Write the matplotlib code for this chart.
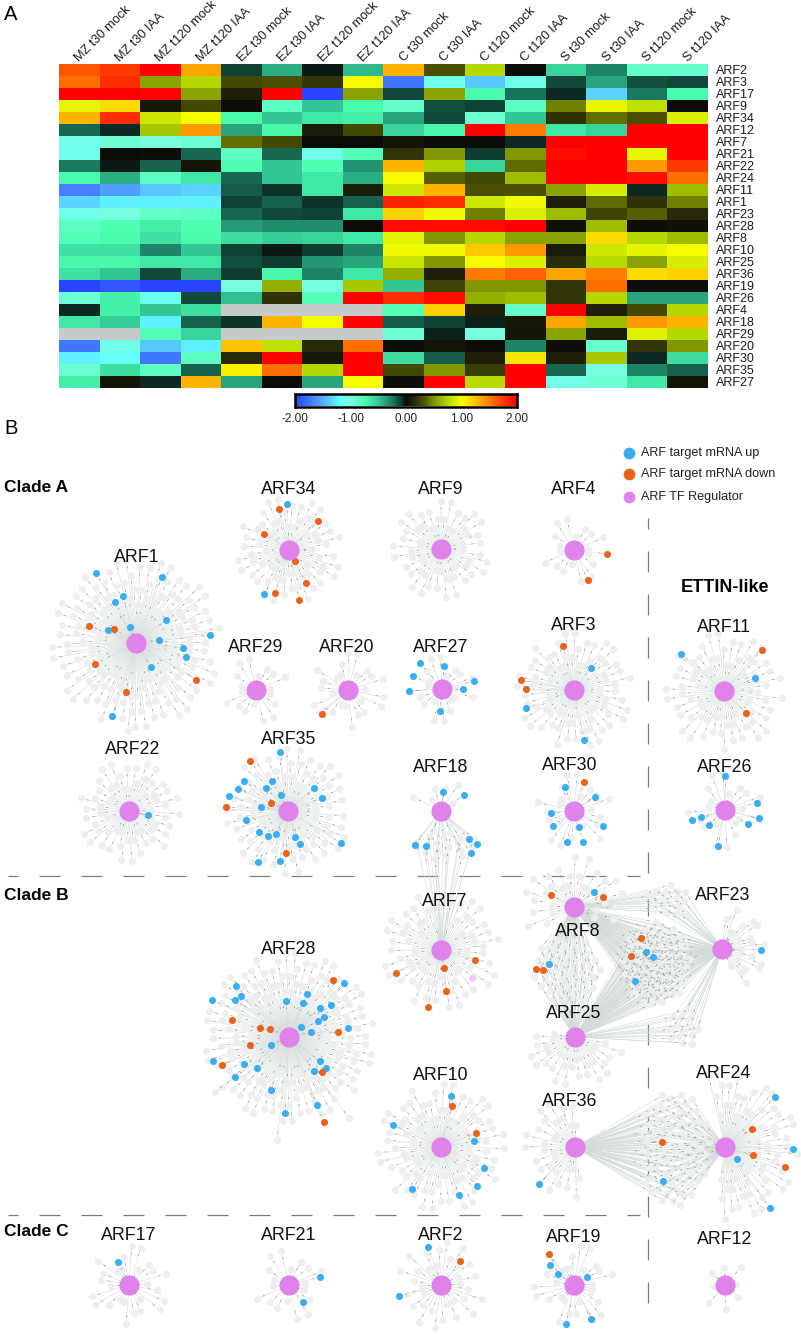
#!/usr/bin/env python3
import numpy as np
import matplotlib
matplotlib.use("Agg")
import matplotlib.pyplot as plt
from matplotlib.collections import LineCollection
from matplotlib.colors import LinearSegmentedColormap

plt.rcParams['font.family'] = ['Liberation Sans', 'DejaVu Sans']

col_labels = ['MZ t30 mock', 'MZ t30 IAA', 'MZ t120 mock', 'MZ t120 IAA',
              'EZ t30 mock', 'EZ t30 IAA', 'EZ t120 mock', 'EZ t120 IAA',
              'C t30 mock', 'C t30 IAA', 'C t120 mock', 'C t120 IAA',
              'S t30 mock', 'S t30 IAA', 'S t120 mock', 'S t120 IAA']
row_labels = ['ARF2', 'ARF3', 'ARF17', 'ARF9', 'ARF34', 'ARF12', 'ARF7', 'ARF21', 'ARF22',
              'ARF24', 'ARF11', 'ARF1', 'ARF23', 'ARF28', 'ARF8', 'ARF10', 'ARF25', 'ARF36',
              'ARF19', 'ARF26', 'ARF4', 'ARF18', 'ARF29', 'ARF20', 'ARF30', 'ARF35', 'ARF27']
nan = float('nan')
heat_values = [
    [1.65, 1.75, 2, 1.35, -0.1, -0.42, -0.03, -0.45, 1.3, 0.3, 0.75, 0, -0.55, -0.28, -0.88, -0.9],
    [1.55, 1.8, 0.55, 0.75, 0.28, 0.3, 0.2, 1.0, -1.75, -1.05, -1.4, -1.05, -0.12, -0.38, -0.13, -0.12],
    [2, 2, 1.97, 0.55, 0.1, 2, -2, 0.55, -0.12, 0.55, -0.75, -0.22, -0.05, -1.35, -0.25, -0.75],
    [0.95, 1.15, 0.07, 0.28, 0.02, -0.85, -0.5, -0.75, -0.9, -0.13, -0.1, -0.85, 0.45, 0.95, 0.8, 0],
    [1.3, 1.8, 0.85, 1.0, -0.75, -0.5, -0.65, -0.68, -0.38, -0.12, -0.95, -0.5, 0.18, 0.4, 0.3, 0.9],
    [-0.2, -0.05, 0.7, 1.4, -0.38, -0.72, 0.08, 0.28, -0.55, -0.72, 2, 1.5, -0.65, -0.55, 2, 2],
    [-1.05, -0.95, -1.0, -0.95, 0.4, 0.28, 0, 0, 0.05, 0.02, 0, -0.05, 2, 2, 2, 2],
    [-1.05, 0, 0.02, -0.2, -0.85, -0.2, -1.05, -0.8, 0.2, 0.5, -0.08, 0.5, 1.95, 2, 0.95, 2],
    [-0.25, -0.03, -0.18, 0.05, -0.78, -0.5, -0.78, -0.32, 1.3, 0.72, -0.55, 0.38, 2, 2, 1.4, 1.75],
    [-0.75, -0.42, -0.85, -0.65, -0.2, -0.5, -0.65, -0.42, 1.0, 0.35, 0.27, 0.65, 2, 2, 1.95, 1.55],
    [-1.7, -1.55, -1.4, -1.35, -0.17, -0.07, -0.65, 0.08, 0.85, 1.3, 0.3, 0.3, 0.55, 0.88, -0.05, 0.65],
    [-1.35, -1.25, -1.25, -1.25, -0.1, -0.18, -0.07, -0.18, 1.85, 1.8, 0.85, 0.97, 0.1, 0.38, 0.18, 0.45],
    [-1.05, -1.0, -0.88, -0.85, -0.2, -0.12, -0.1, -0.65, 1.2, 0.97, 0.45, 0.9, 0.65, 0.25, 0.35, 0.15],
    [-0.85, -0.78, -0.68, -0.78, -0.35, -0.3, -0.3, 0, 1.95, 1.95, 1.95, 2, 0.04, 0.65, 0.02, 0.04],
    [-0.8, -0.75, -0.62, -0.75, -0.6, -0.52, -0.55, -0.65, 0.93, 0.5, 0.75, 0.55, 0.55, 1.15, 0.75, 0.65],
    [-0.62, -0.62, -0.28, -0.5, -0.1, -0.02, -0.08, -0.28, 0.97, 0.97, 1.22, 1.4, 0.08, 0.85, 0.93, 1.0],
    [-0.72, -0.72, -0.65, -0.65, -0.13, -0.08, -0.33, -0.38, 0.83, 0.5, 1.0, 0.9, 0.17, 0.78, 0.55, 0.88],
    [-0.62, -0.5, -0.12, -0.4, -0.08, -0.72, -0.28, -0.65, 0.6, 0.1, 1.5, 1.6, 1.35, 1.5, 1.15, 1.2],
    [-2, -1.9, -2, -2, -1.0, 0.6, -1.0, 0.7, -0.5, 0.25, 0.5, 0.5, 0.2, 1.55, 0.02, 0.02],
    [-0.95, -0.7, -1.1, -0.12, -0.48, 0.18, -0.8, 2, 1.8, 1.95, 0.6, 0.65, 0.2, 0.75, -0.38, -0.38],
    [-0.05, -0.7, -0.5, -0.62, nan, nan, nan, nan, -0.8, 1.2, 0.1, -0.9, 2, 0.1, 0.28, 0.75],
    [-0.65, -0.52, -1.25, -0.18, -0.07, 1.3, 1.0, 2, -0.17, -0.1, -0.04, 0.07, 1.35, 0.65, 1.4, 1.3],
    [nan, nan, -0.8, -0.55, nan, nan, nan, nan, -0.95, -0.04, -1.0, 0.06, 0.55, 0.08, 0.92, 0.75],
    [-1.75, -1.05, -1.4, -1.25, 1.25, 0.8, 0.15, 1.55, 0.03, 0.05, 0.02, -0.27, 0.03, -0.92, 0.2, 0.5],
    [-1.25, -1.15, -1.75, -0.85, 0.15, 2, 0.07, 2, -0.6, -0.17, 0.1, 1.1, 0.1, 0.7, -0.05, -0.6],
    [-0.95, -0.6, -0.85, -0.18, 1.05, 1.55, 0.75, 2, 0.28, 0.5, 0.22, 2, -0.2, -1.0, -0.28, -0.18],
    [-0.68, 0.05, -0.05, 1.3, -0.38, 0, -0.38, 1.0, 0.03, 2, 0.78, 2, -1.05, -0.95, -0.65, 0.05],
]
cbar_ticks = [-2, -1, 0, 1, 2]

# network, in picture pixels
hub_names = ['ARF34', 'ARF9', 'ARF4', 'ARF1', 'ARF29', 'ARF20', 'ARF27', 'ARF3', 'ARF11',
             'ARF22', 'ARF35', 'ARF18', 'ARF30', 'ARF26', 'ARF7', 'ARF8', 'ARF23', 'ARF28',
             'ARF25', 'ARF10', 'ARF36', 'ARF24', 'ARF17', 'ARF21', 'ARF2', 'ARF19', 'ARF12']
hub_x = [289, 441, 574, 136, 256, 348, 442, 574, 724, 129, 288, 441, 574, 725, 441, 574, 722,
         289, 575, 441, 575, 725, 129, 289, 441, 574, 725]
hub_y = [550, 549, 550, 643, 690, 690, 689, 690, 691, 811, 811, 811, 811, 810, 950, 907, 949,
         1037, 1037, 1147, 1147, 1147, 1285, 1285, 1285, 1285, 1285]
hub_label_x = [289, 441, 574, 137, 256, 347, 441, 574, 724, 133, 289, 441, 570, 725, 445, 578,
               723, 289, 574, 441, 570, 724, 129, 289, 441, 574, 725]
hub_label_y = [489, 489, 490, 557, 647, 647, 647, 626, 627, 750, 740, 767, 766, 767, 902, 932,
               895, 949, 1013, 1075, 1102, 1074, 1235, 1235, 1235, 1237, 1239]
hub_leaves = [65, 58, 18, 150, 18, 25, 20, 75, 70, 60, 90, 6, 22, 20, 66, 30, 22, 170, 30, 85,
              30, 60, 26, 18, 32, 28, 8]
hub_radius = [52, 48, 32, 84, 32, 37, 32, 57, 58, 50, 62, 31, 37, 37, 58, 50, 42, 84, 48, 63,
              50, 72, 39, 35, 43, 40, 24]
# arc of own leaves in degrees, counter-clockwise from east
hub_arc = {'ARF18': (30, 150), 'ARF7': (-260, 75), 'ARF8': (-28, 208), 'ARF25': (170, 345),
           'ARF23': (-65, 80), 'ARF36': (85, 275), 'ARF24': (-100, 100)}

up_targets = {
    'ARF34': [(287, 504), (264, 594)],
    'ARF1': [(96, 573), (162, 577), (123, 596), (115, 602), (166, 620), (108, 630), (130, 627),
             (159, 640), (210, 635), (183, 648), (186, 657), (151, 667), (112, 716)],
    'ARF27': [(420, 663), (444, 666), (413, 676), (474, 681), (463, 689), (409, 691), (440, 711)],
    'ARF3': [(591, 668), (526, 708), (584, 740)],
    'ARF11': [(681, 654), (755, 678)],
    'ARF22': [(148, 815)],
    'ARF35': [(280, 752), (244, 781), (238, 789), (229, 796), (272, 781), (266, 788), (281, 795),
              (314, 788), (322, 798), (261, 807), (246, 820), (259, 832), (268, 836), (276, 834),
              (295, 837), (300, 844), (341, 843), (258, 862), (280, 861)],
    'ARF18': [(443, 792), (464, 795), (415, 845), (426, 846), (469, 839), (477, 844), (471, 853)],
    'ARF30': [(565, 787), (595, 797), (551, 813), (553, 826), (567, 842), (583, 842), (603, 826),
              (579, 827)],
    'ARF26': [(725, 776), (757, 803), (759, 818), (692, 820), (709, 825), (701, 817), (718, 846),
              (748, 824)],
    'ARF8': [(594, 892), (549, 964), (635, 981)],
    'ARF23': [(761, 950), (646, 952), (653, 957)],
    'ARF28': [(236, 986), (241, 996), (235, 1000), (212, 1000), (286, 1001), (307, 994),
              (303, 1003), (320, 1008), (331, 1005), (344, 983), (324, 1017), (318, 1021),
              (301, 1027), (311, 1032), (348, 1028), (271, 1045), (213, 1061), (244, 1064),
              (257, 1068), (235, 1077), (271, 1090), (320, 1061), (326, 1068), (314, 1071),
              (317, 1105), (285, 1113)],
    'ARF10': [(451, 1096), (393, 1125), (474, 1141), (484, 1168), (477, 1186), (459, 1195),
              (412, 1189)],
    'ARF36': [(539, 1184), (663, 1181)],
    'ARF24': [(775, 1097), (793, 1149), (737, 1159), (770, 1208)],
    'ARF17': [(118, 1262)],
    'ARF21': [(320, 1277), (303, 1302)],
    'ARF2': [(428, 1247), (399, 1296)],
    'ARF19': [(550, 1265), (558, 1274), (587, 1277), (591, 1319), (566, 1324)],
}
down_targets = {
    'ARF34': [(279, 509), (318, 521), (264, 534), (295, 561), (306, 583), (275, 593), (299, 600)],
    'ARF4': [(607, 554), (588, 580)],
    'ARF1': [(89, 626), (114, 629), (95, 664), (196, 680), (126, 692)],
    'ARF20': [(322, 714)],
    'ARF3': [(563, 646), (521, 680), (526, 689)],
    'ARF11': [(762, 650), (746, 713)],
    'ARF35': [(250, 761), (271, 803), (226, 807), (286, 853)],
    'ARF30': [(584, 782)],
    'ARF7': [(475, 960), (444, 968), (396, 973), (446, 991), (428, 1007)],
    'ARF8': [(551, 895), (603, 897), (536, 969), (543, 970), (641, 938), (631, 956)],
    'ARF28': [(333, 980), (232, 1020), (260, 1028), (270, 1029), (250, 1045), (338, 1032),
              (222, 1065), (322, 1072), (324, 1122)],
    'ARF10': [(452, 1106), (476, 1133)],
    'ARF36': [(662, 1142)],
    'ARF24': [(752, 1129), (753, 1155), (785, 1167)],
    'ARF2': [(460, 1261)],
    'ARF19': [(549, 1254)],
}
pale_targets = [('ARF7', 472, 978)]
long_leaves = [('ARF28', 277, 1140), ('ARF28', 349, 1118), ('ARF1', 128, 731), ('ARF28', 215, 1092)]

# targets shared by several regulators: hubs, centre, half widths, number of leaves
shared_hubs = [('ARF8', 'ARF25'), ('ARF8', 'ARF25', 'ARF23'), ('ARF8', 'ARF23'),
               ('ARF25', 'ARF23'), ('ARF36', 'ARF24'), ('ARF18', 'ARF7')]
shared_cx = [566, 656, 668, 683, 674, 446]
shared_cy = [971, 963, 900, 1028, 1148, 845]
shared_rx = [34, 34, 20, 17, 35, 34]
shared_ry = [35, 42, 17, 19, 59, 15]
shared_n = [45, 85, 16, 14, 80, 18]

clade_labels = ['Clade A', 'Clade B', 'Clade C']
clade_y = [488, 896, 1232]
legend_labels = ['ARF target mRNA up', 'ARF target mRNA down', 'ARF TF Regulator']
legend_y = [453, 474, 497]

BLUE = '#3AAEEF'
ORANGE = '#E8641B'
PINK = '#DF82EC'
LEAF = '#ECEFEE'
W, H = 801, 1334


def px_axes(fig, x0, y0, x1, y1):
    return fig.add_axes([x0 / W, 1 - y1 / H, (x1 - x0) / W, (y1 - y0) / H])


def own_leaves(x, y, n, radius, arc):
    """Radial layout: even angles, leaves stepping through a few rings."""
    rings = min(3 + n // 30, 7)
    fracs = np.linspace(0.45, 1.0, rings)
    order = [fracs[(i * 2 + i // rings) % rings] for i in range(n)]
    a0, a1 = arc
    full = (a1 - a0) >= 360
    angles = np.radians(np.linspace(a0, a1, n, endpoint=not full) + 3)
    return [(x + radius * f * np.cos(t), y - radius * f * np.sin(t)) for f, t in zip(order, angles)]


def sunflower(cx, cy, rx, ry, n):
    idx = np.arange(n) + 0.5
    r = np.sqrt(idx / n)
    t = idx * 2.39996
    return list(zip(cx + rx * r * np.cos(t), cy + ry * r * np.sin(t)))


fig = plt.figure(figsize=(W / 100, H / 100), dpi=100)

# --- A: heatmap
cmap = LinearSegmentedColormap.from_list('arf', [
    (0.0, '#2A45FF'), (0.09, '#4C8CFF'), (0.16, '#5CD2FF'), (0.20, '#60FFFF'), (0.25, '#78FFE0'),
    (0.31, '#4CFFB0'), (0.375, '#34C896'), (0.44, '#1A7A60'), (0.48, '#0E3A30'), (0.5, '#0A0A08'),
    (0.53, '#22220A'), (0.58, '#4E5400'), (0.63, '#849A00'), (0.69, '#B4D800'), (0.75, '#F6FF00'),
    (0.81, '#FFC800'), (0.875, '#FF8000'), (0.94, '#FF3A00'), (1.0, '#FF0000')])
cmap.set_bad('#C5CBCA')

ax = px_axes(fig, 59, 64, 708, 388)
ax.imshow(np.array(heat_values), cmap=cmap, vmin=-2, vmax=2, aspect='auto', interpolation='nearest')
ax.set_xticks(np.arange(len(col_labels)))
ax.set_xticklabels(col_labels, rotation=45, ha='left', va='baseline', rotation_mode='anchor', fontsize=9.2)
ax.xaxis.tick_top()
ax.yaxis.tick_right()
ax.set_yticks(np.arange(len(row_labels)))
ax.set_yticklabels(row_labels, fontsize=9)
ax.tick_params(length=0, pad=5.5, colors='#1a1a1a')
ax.tick_params(axis='x', pad=1.5)
for s in ax.spines.values():
    s.set_visible(False)

# colour bar
cax = px_axes(fig, 295, 394.5, 517, 406.5)
cax.imshow(np.linspace(-2, 2, 256)[None, :], cmap=cmap, vmin=-2, vmax=2, aspect='auto',
           extent=(-2, 2, 0, 1))
cax.set_yticks([])
cax.set_xticks(cbar_ticks)
cax.set_xticklabels([f'{v:.2f}' for v in cbar_ticks], fontsize=8.5)
cax.tick_params(length=0, pad=5, colors='#222222')
for s in cax.spines.values():
    s.set_linewidth(1.8)
    s.set_color('black')

# --- B: networks, drawn in picture pixels
net = fig.add_axes([0, 0, 1, 1], zorder=-1)
net.set_xlim(0, W)
net.set_ylim(H, 0)
net.axis('off')

hub_pos = {n: (x, y) for n, x, y in zip(hub_names, hub_x, hub_y)}
edges, ticks, leaf_xy = [], [], []


def add_edge(hub, px, py):
    hx, hy = hub_pos[hub]
    edges.append([(hx, hy), (px, py)])
    dx, dy = px - hx, py - hy
    d = np.hypot(dx, dy)
    ux, uy = dx / d, dy / d
    ticks.append([(px - ux * 8.5, py - uy * 8.5), (px - ux * 6.5, py - uy * 6.5)])


for name, x, y, n, r in zip(hub_names, hub_x, hub_y, hub_leaves, hub_radius):
    for p in own_leaves(x, y, n, r, hub_arc.get(name, (0, 360))):
        add_edge(name, *p)
        leaf_xy.append(p)
for hub, px, py in long_leaves:
    add_edge(hub, px, py)
    leaf_xy.append((px, py))
for hubs, cx, cy, rx, ry, n in zip(shared_hubs, shared_cx, shared_cy, shared_rx, shared_ry, shared_n):
    for p in sunflower(cx, cy, rx, ry, n):
        leaf_xy.append(p)
        for h in hubs:
            add_edge(h, *p)
for targets in (up_targets, down_targets):
    for hub, pts in targets.items():
        for p in pts:
            add_edge(hub, *p)

net.add_collection(LineCollection(edges, colors='#D3DBD9', linewidths=0.4, zorder=1))
lx, ly = zip(*leaf_xy)
net.scatter(lx, ly, s=26, color=LEAF, linewidths=0, zorder=2)
net.add_collection(LineCollection(ticks, colors='#8C9593', linewidths=0.5, zorder=3))

for targets, color in ((up_targets, BLUE), (down_targets, ORANGE)):
    pts = [p for v in targets.values() for p in v]
    net.scatter([p[0] for p in pts], [p[1] for p in pts], s=26, color=color, linewidths=0, zorder=4)
net.scatter([p[1] for p in pale_targets], [p[2] for p in pale_targets], s=22, color='#F3C6F7',
            linewidths=0, zorder=4)
net.scatter(hub_x, hub_y, s=210, color=PINK, linewidths=0, zorder=5)

for name, x, y in zip(hub_names, hub_label_x, hub_label_y):
    net.text(x, y, name, ha='center', va='center', fontsize=12.8, color='#111111', zorder=6)

# clade separators; dash lengths are scaled by the line width
net.plot([8, 640], [876, 876], color='#76807E', lw=0.9, ls=(8.8, (16.8, 16.8)), zorder=0)
net.plot([8, 640], [1215, 1215], color='#76807E', lw=0.9, ls=(8.8, (16.8, 16.8)), zorder=0)
net.plot([648, 648], [518, 1325], color='#76807E', lw=0.9, ls=(8, (16.8, 17.6)), zorder=0)

for label, y in zip(clade_labels, clade_y):
    net.text(4, y, label, fontsize=12.5, fontweight='bold', va='center', ha='left')
net.text(725, 588, 'ETTIN-like', fontsize=13, fontweight='bold', va='center', ha='center')

for label, y, color in zip(legend_labels, legend_y, (BLUE, ORANGE, PINK)):
    net.scatter([629], [y], s=72, color=color, linewidths=0)
    net.text(641, y, label, fontsize=9.1, va='center', ha='left', color='#222222')

net.text(4, 15, 'A', fontsize=14.5, va='center', ha='left')
net.text(4, 428, 'B', fontsize=14.5, va='center', ha='left')

fig.savefig('out.png', dpi=100, facecolor='white')
